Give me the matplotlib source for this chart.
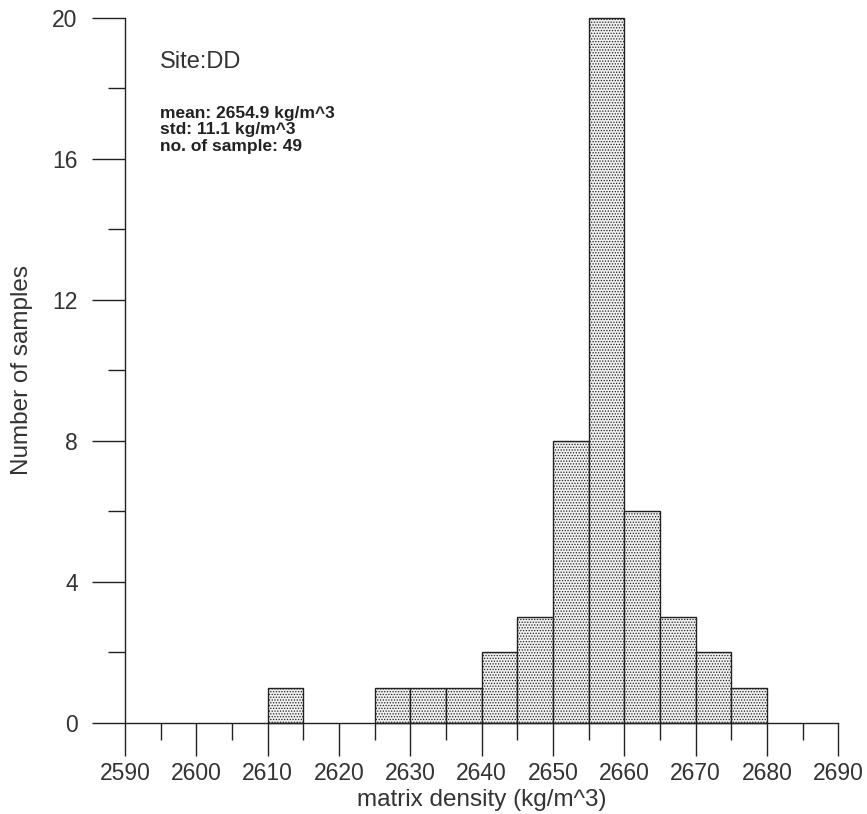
import matplotlib
matplotlib.use("Agg")
import matplotlib.pyplot as plt
import numpy as np

plt.rcParams['font.family'] = ['Liberation Sans', 'DejaVu Sans']
plt.rcParams['hatch.color'] = '#a8a8a8'
plt.rcParams['hatch.linewidth'] = 0.6

bin_edges = [2590, 2595, 2600, 2605, 2610, 2615, 2620, 2625, 2630, 2635, 2640,
             2645, 2650, 2655, 2660, 2665, 2670, 2675, 2680, 2685, 2690]
counts = [0, 0, 0, 0, 1, 0, 0, 1, 1, 1, 2, 3, 8, 20, 6, 3, 2, 1, 0, 0]
x_ticks = [2590, 2600, 2610, 2620, 2630, 2640, 2650, 2660, 2670, 2680, 2690]
y_ticks = [0, 4, 8, 12, 16, 20]
site = "Site:DD"
stats = ["mean: 2654.9 kg/m^3", "std: 11.1 kg/m^3", "no. of sample: 49"]

fig = plt.figure(figsize=(8.67, 8.14), dpi=100)
ax = fig.add_axes([0.144, 0.112, 0.823, 0.866])

lefts = np.array(bin_edges[:-1])
widths = np.diff(bin_edges)
c = np.array(counts)
mask = c > 0
ax.bar(lefts[mask], c[mask], width=widths[mask], align='edge',
       facecolor='#f0f0f0', edgecolor='#222222', linewidth=1.0,
       hatch='......', clip_on=False, zorder=2)

ax.set_xlim(2590, 2690)
ax.set_ylim(0, 20)
ax.set_xticks(x_ticks)
ax.set_xticks(bin_edges, minor=True)
ax.set_yticks(y_ticks)
ax.set_yticks([2, 6, 10, 14, 18], minor=True)

for s in ['top', 'right']:
    ax.spines[s].set_visible(False)
for s in ['left', 'bottom']:
    ax.spines[s].set_color('#222222')
    ax.spines[s].set_linewidth(1.0)

ax.tick_params(axis='both', which='major', direction='out', length=24, width=1.0,
               color='#222222', labelsize=16.5, labelcolor='#333333', pad=4)
ax.tick_params(axis='y', which='major', pad=10)
ax.tick_params(axis='both', which='minor', direction='out', length=12, width=1.0,
               color='#222222')

ax.set_xlabel("matrix density (kg/m^3)", fontsize=17.5, color='#333333', labelpad=3)
ax.set_ylabel("Number of samples", fontsize=17.5, color='#333333', labelpad=14)

ax.text(0.049, 0.938, site, transform=ax.transAxes, fontsize=17,
        color='#333333', va='center', ha='left')
ys = [0.865, 0.842, 0.818]
for t, y in zip(stats, ys):
    ax.text(0.049, y, t, transform=ax.transAxes, fontsize=12.5,
            fontweight='bold', color='#222222', va='center', ha='left')

fig.savefig("out.png", dpi=100, facecolor='white')
